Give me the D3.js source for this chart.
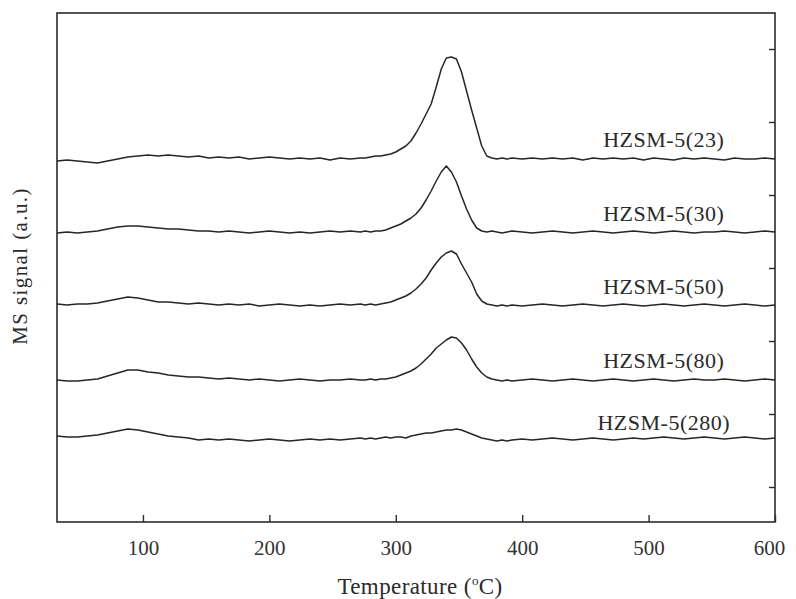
<!DOCTYPE html>
<html>
<head>
<meta charset="utf-8">
<script src="https://cdn.jsdelivr.net/npm/d3@7"></script>
<style>
  html, body { margin: 0; padding: 0; background: #ffffff; }
  svg { display: block; }
</style>
</head>
<body>
<script>
// ---------- DATA ----------
const temps = [32,40,48,56,64,72,80,88,96,104,112,120,128,136,144,152,160,168,176,184,192,200,208,216,224,232,240,248,256,264,272,
  276,280,284,288,292,296,300,304,308,312,316,320,324,328,332,336,340,344,348,352,356,360,364,368,372,376,380,384,388,392,
  400,408,416,424,432,440,448,456,464,472,480,488,496,504,512,520,528,536,544,552,560,568,576,584,592,600];

const seriesNames = ["HZSM-5(23)", "HZSM-5(30)", "HZSM-5(50)", "HZSM-5(80)", "HZSM-5(280)"];

const s23 = [361,362,361,360,359,361,363,365,366,367,366,367,366,365,366,364,365,364,365,363,364,365,364,363,364,363,364,362,364,363,364,
  364,365,366,366,367,368,370,373,376,381,389,398,408,418,435,453,464,465,463,450,431,412,394,376,366,364,363,364,363,364,
  363,364,363,364,363,364,362,364,363,364,363,364,362,364,363,362,364,363,364,363,362,364,363,363,364,363];

const s30 = [289,290,289,290,291,293,295,296,296,295,294,293,293,292,291,291,290,291,290,289,290,291,290,289,290,289,290,291,290,291,290,
  291,290,291,291,292,294,296,298,301,304,308,314,322,331,341,350,356,350,340,326,313,302,294,291,290,291,290,289,290,291,
  290,289,290,291,290,289,290,291,290,289,290,291,290,289,290,291,290,289,290,290,291,290,289,290,291,290];

const s50 = [218,217,218,218,219,221,223,225,224,222,220,220,219,218,219,218,217,218,217,218,216,217,218,217,216,217,216,217,218,217,218,
  217,218,217,218,219,220,222,224,226,229,233,238,244,252,259,265,269,271,268,258,249,240,228,221,218,217,216,217,216,217,
  216,217,218,217,216,217,218,217,216,217,218,217,216,217,218,217,216,217,218,217,216,217,218,217,216,217];

const s80 = [142,141,141,142,143,146,149,152,152,150,149,147,146,145,145,144,143,144,143,142,143,142,141,142,143,142,141,142,142,143,142,
  142,143,142,143,143,144,145,147,149,151,154,158,163,168,174,178,182,185,184,179,172,163,155,149,145,143,142,141,142,141,
  142,143,142,141,142,143,142,141,142,143,142,141,142,143,142,141,142,143,142,142,143,142,141,142,143,142];

const s280 = [86,85,85,86,87,89,91,93,92,90,88,86,85,84,82,83,82,83,82,81,82,83,82,81,82,83,82,83,82,83,84,
  83,84,83,84,85,84,85,85,84,86,87,88,89,89,90,91,92,92,93,92,90,88,86,84,83,82,81,82,81,82,
  83,82,83,84,83,82,83,84,83,82,83,84,83,84,85,84,83,84,85,84,83,84,85,84,83,84];

const xTickValues = [100, 200, 300, 400, 500, 600];
const yTickValues = [35, 108, 181, 254, 327, 400, 473];
const xDomain = [32, 600];
const yDomain = [0, 509];

const seriesValues = [s23, s30, s50, s80, s280];

// ---------- LAYOUT ----------
const W = 796, H = 599;
const plot = { left: 57, right: 775, top: 13, bottom: 522 };
const labelCenterT = 512;
const labelRise = [12, 11, 11, 12, 8];
const serif = "'Liberation Serif', 'Times New Roman', Times, serif";
const ink = "#262626";

const svg = d3.select("body").append("svg").attr("width", W).attr("height", H);

const x = d3.scaleLinear().domain(xDomain).range([plot.left, plot.right]);
const y = d3.scaleLinear().domain(yDomain).range([plot.bottom, plot.top]);

// frame
svg.append("rect")
  .attr("x", plot.left).attr("y", plot.top)
  .attr("width", plot.right - plot.left).attr("height", plot.bottom - plot.top)
  .attr("fill", "none").attr("stroke", "#2b2b2b").attr("stroke-width", 1.6);

// bottom axis (inward ticks)
const xAxis = svg.append("g")
  .attr("transform", `translate(0,${plot.bottom})`)
  .call(d3.axisBottom(x).tickValues(xTickValues).tickSizeInner(-7).tickSizeOuter(0).tickPadding(40).tickFormat(d3.format("d")));
xAxis.select(".domain").remove();
xAxis.selectAll(".tick line").attr("stroke", "#2b2b2b").attr("stroke-width", 1.4);
xAxis.selectAll(".tick text")
  .attr("font-family", serif).attr("font-size", 21).attr("fill", "#333")
  .attr("y", 33).attr("dy", 0)
  .attr("dx", d => d === 600 ? -6 : 0);

// right axis (inward ticks, no labels)
const yAxisR = svg.append("g")
  .attr("transform", `translate(${plot.right},0)`)
  .call(d3.axisRight(y).tickValues(yTickValues).tickSizeInner(-6).tickSizeOuter(0).tickFormat(""));
yAxisR.select(".domain").remove();
yAxisR.selectAll(".tick line").attr("stroke", "#2b2b2b").attr("stroke-width", 1.4);

// traces
const line = d3.line().x(d => x(d[0])).y(d => y(d[1]));
seriesValues.forEach((vals, i) => {
  const pts = temps.map((t, k) => [t, vals[k]]);
  svg.append("path")
    .datum(pts)
    .attr("d", line)
    .attr("fill", "none")
    .attr("stroke", ink)
    .attr("stroke-width", 1.5)
    .attr("stroke-linejoin", "round");
  svg.append("text")
    .attr("x", x(labelCenterT))
    .attr("y", y(vals[vals.length - 1]) - labelRise[i])
    .attr("text-anchor", "middle")
    .attr("font-family", serif).attr("font-size", 22)
    .attr("letter-spacing", 0.5)
    .attr("fill", "#2a2a2a")
    .text(seriesNames[i]);
});

// axis titles
const xt = svg.append("text")
  .attr("x", 420).attr("y", 594)
  .attr("text-anchor", "middle")
  .attr("font-family", serif).attr("font-size", 23)
  .attr("letter-spacing", 0.4)
  .attr("fill", "#2a2a2a");
xt.append("tspan").text("Temperature (");
xt.append("tspan").attr("font-size", 13).attr("dy", -9).text("o");
xt.append("tspan").attr("dy", 9).text("C)");

svg.append("text")
  .attr("transform", "translate(27,266) rotate(-90)")
  .attr("text-anchor", "middle")
  .attr("font-family", serif).attr("font-size", 21)
  .attr("letter-spacing", 1.4)
  .attr("fill", "#2a2a2a")
  .text("MS signal (a.u.)");
</script>
</body>
</html>
